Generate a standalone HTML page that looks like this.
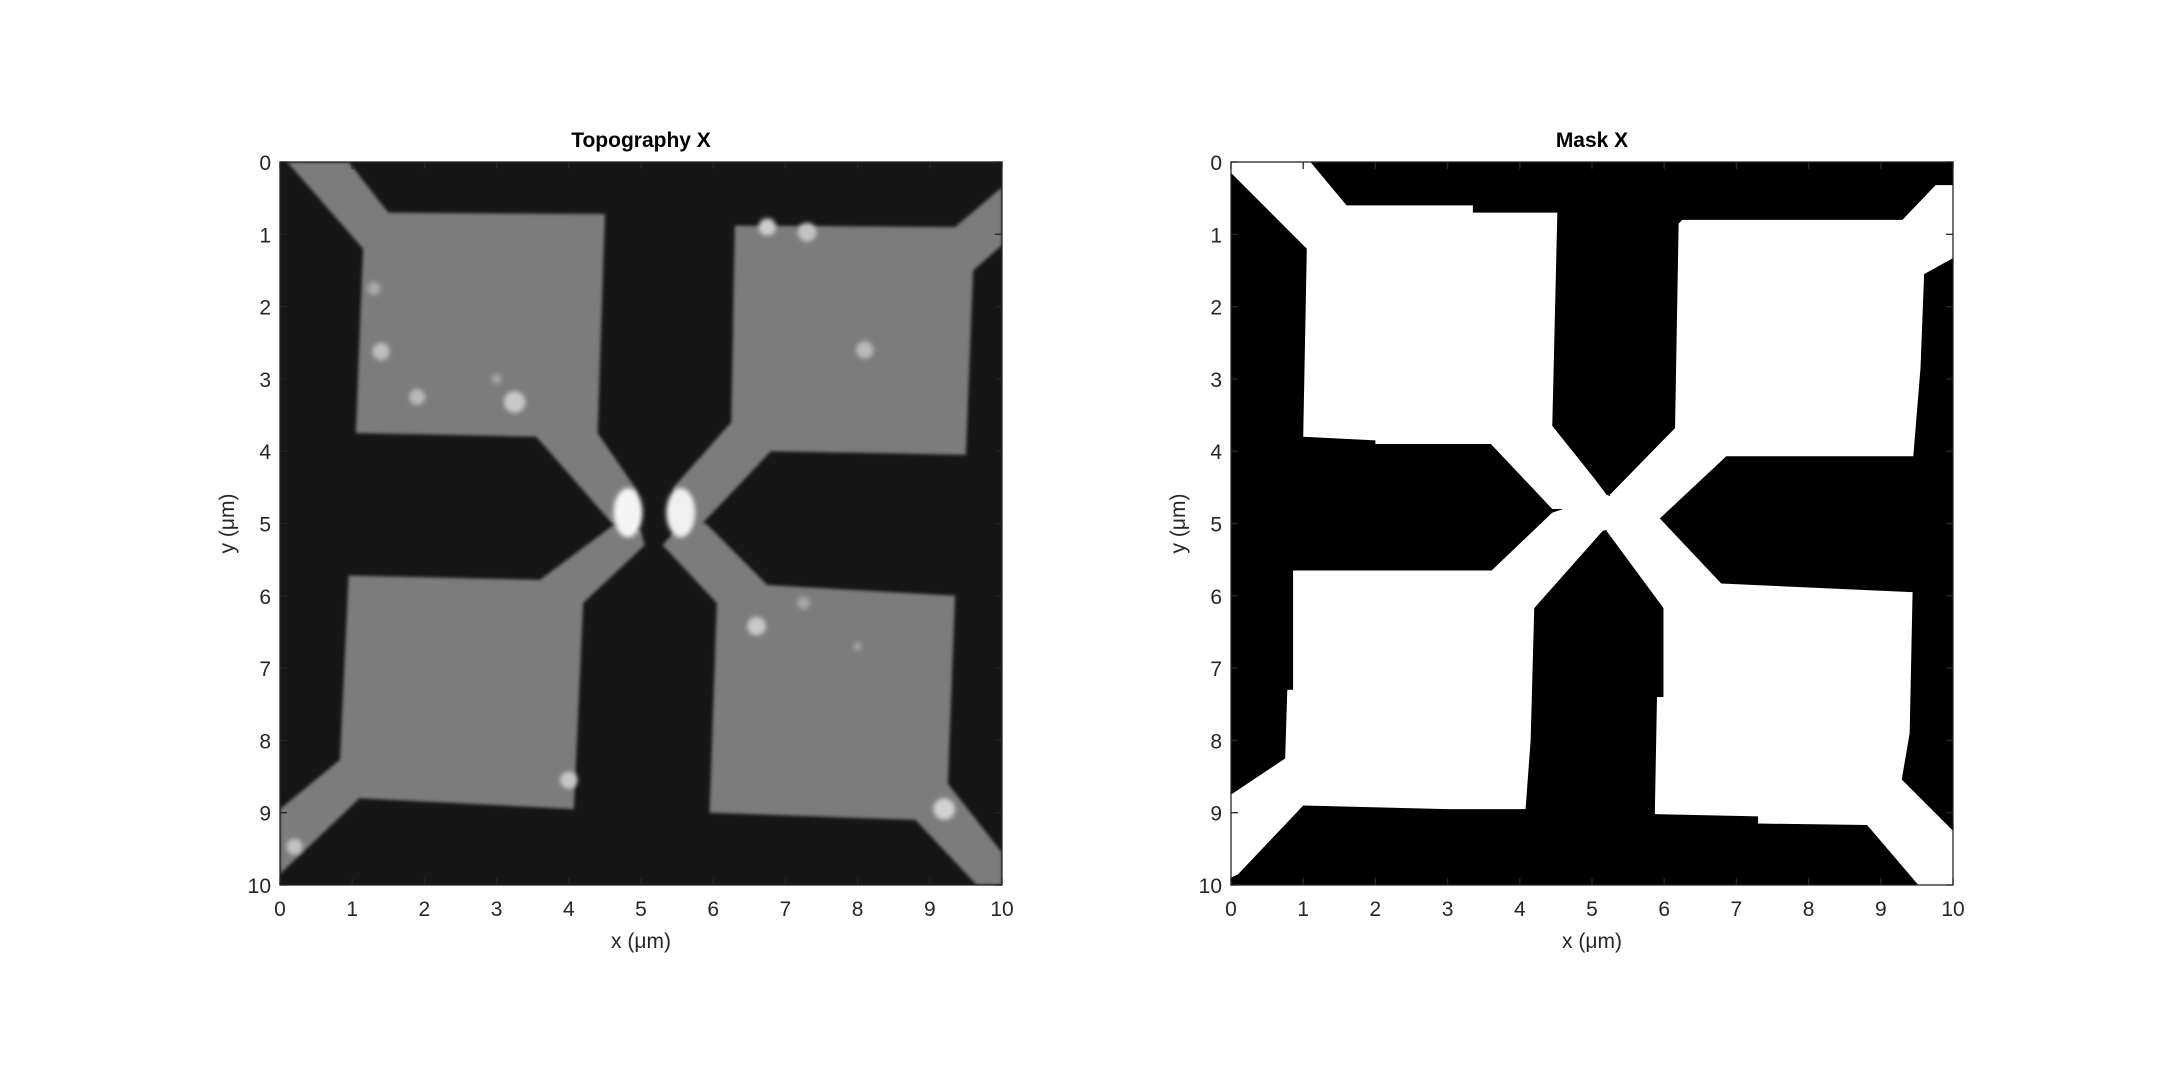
<!DOCTYPE html>
<html><head><meta charset="utf-8"><style>
html,body{margin:0;padding:0;background:#fff;}
svg{display:block;font-family:"Liberation Sans",Arial,sans-serif;}
</style></head><body>
<svg id="fig" width="2157" height="1084" viewBox="0 0 2157 1084" xmlns="http://www.w3.org/2000/svg">
<defs>
<filter id="soft" x="-5%" y="-5%" width="110%" height="110%"><feGaussianBlur stdDeviation="1.6"/></filter>
<filter id="spotblur" x="-50%" y="-50%" width="200%" height="200%"><feGaussianBlur stdDeviation="2.5"/></filter>
<clipPath id="clipL"><rect x="280" y="162" width="722" height="723"/></clipPath>
</defs>
</svg>
<script>
// ---- data (µm coordinates, y downward) ----
const ticks = [0,1,2,3,4,5,6,7,8,9,10];
const tickLabels = ["0","1","2","3","4","5","6","7","8","9","10"];
const topoPadTL = [[0.1,0],[0.95,0],[1.5,0.7],[4.5,0.72],[4.4,3.75],[4.95,4.55],[4.9,4.95],[4.6,5.0],[3.55,3.8],[1.05,3.75],[1.15,1.2]];
const topoPadTR = [[6.3,0.88],[9.35,0.9],[10,0.35],[10,1.15],[9.6,1.5],[9.5,4.05],[6.8,4.0],[5.85,5.0],[5.45,5.05],[5.45,4.5],[6.25,3.6]];
const topoPadBL = [[0.95,5.72],[3.6,5.78],[4.65,5.0],[5.0,5.1],[5.05,5.3],[4.2,6.1],[4.07,8.95],[1.1,8.8],[0,9.85],[0,8.95],[0.83,8.27]];
const topoPadBR = [[5.55,5.0],[5.9,5.0],[6.75,5.85],[9.35,6.0],[9.25,8.6],[10,9.55],[10,10],[9.65,10],[8.8,9.1],[5.95,9.0],[6.05,6.1],[5.3,5.3]];
const spotX = [4.82,5.55,6.75,7.3,3.25,1.4,1.9,8.1,6.6,4.0,9.2,0.2,1.3,7.25,3.0,8.0];
const spotY = [4.85,4.85,0.9,0.97,3.32,2.62,3.25,2.6,6.42,8.55,8.95,9.47,1.75,6.1,3.0,6.7];
const spotR = [0.2,0.2,0.12,0.13,0.15,0.12,0.11,0.12,0.13,0.12,0.15,0.11,0.09,0.09,0.07,0.06];
const spotV = [245,240,205,195,200,190,185,185,200,200,210,195,170,165,165,160];
const maskTL = [[0,0],[1.1,0],[1.6,0.6],[3.35,0.6],[3.35,0.7],[4.52,0.7],[4.45,3.65],[5.05,4.4],[5.2,4.6],[5.2,4.8],[4.45,4.8],[3.6,3.9],[2.0,3.9],[2.0,3.85],[1.0,3.8],[1.05,1.2],[0,0.15]];
const maskTR = [[6.25,0.8],[9.3,0.8],[9.76,0.32],[10,0.32],[10,1.33],[9.6,1.55],[9.55,2.85],[9.45,4.07],[6.86,4.07],[5.94,4.93],[5.25,5.0],[5.25,4.6],[6.15,3.68],[6.2,0.85]];
const maskBL = [[0.86,5.65],[3.61,5.65],[4.45,4.85],[5.15,4.95],[5.15,5.1],[4.2,6.17],[4.15,8.0],[4.08,8.95],[3.0,8.95],[1.0,8.9],[0.1,9.85],[0,9.9],[0,8.75],[0.75,8.25],[0.78,7.3],[0.86,7.3]];
const maskBR = [[5.2,5.0],[5.94,4.93],[6.79,5.83],[9.44,5.95],[9.4,7.9],[9.29,8.54],[10,9.25],[10,10],[9.52,10],[8.81,9.17],[7.3,9.15],[7.3,9.05],[5.87,9.02],[5.9,7.4],[5.99,7.4],[5.99,6.17],[5.2,5.1]];
const maskCenter = [[5.2,4.6],[5.94,4.93],[5.15,5.1],[4.45,4.85]];

const NS="http://www.w3.org/2000/svg";
const svg=document.getElementById('fig');
function mk(tag,attrs,parent){const e=document.createElementNS(NS,tag);for(const k in attrs)e.setAttribute(k,attrs[k]);(parent||svg).appendChild(e);return e;}

function axes(x0,x1,y0,y1,title,prefix,drawFn){
  const sx=v=>x0+(v/10)*(x1-x0);
  const sy=v=>y0+(v/10)*(y1-y0);
  const g=mk('g',{});
  
  
  drawFn(g,sx,sy);
  const box=mk('rect',{x:x0,y:y0,width:x1-x0,height:y1-y0,fill:'none',stroke:'#262626','stroke-width':1.3},g);
  
  
  ticks.forEach((t,i)=>{
    const tx=sx(t), ty=sy(t);
    mk('line',{x1:tx,y1:y1,x2:tx,y2:y1-7,stroke:'#262626','stroke-width':1.3},g);
    mk('line',{x1:tx,y1:y0,x2:tx,y2:y0+7,stroke:'#262626','stroke-width':1.3},g);
    mk('line',{x1:x0,y1:ty,x2:x0+7,y2:ty,stroke:'#262626','stroke-width':1.3},g);
    mk('line',{x1:x1,y1:ty,x2:x1-7,y2:ty,stroke:'#262626','stroke-width':1.3},g);
    const xl=mk('text',{x:tx,y:y1+31,'font-size':21,fill:'#262626','text-anchor':'middle'},g);
    xl.textContent=tickLabels[i];
    
    
    const yl=mk('text',{x:x0-9,y:ty+8,'font-size':21,fill:'#262626','text-anchor':'end'},g);
    yl.textContent=tickLabels[i];
    
    
  });
  const tt=mk('text',{x:(x0+x1)/2,y:y0-15,'font-size':21,'font-weight':'bold',fill:'#000','text-anchor':'middle'},g);
  tt.textContent=title;
  
  
  const xt=mk('text',{x:(x0+x1)/2,y:y1+63,'font-size':21,fill:'#262626','text-anchor':'middle'},g);
  xt.textContent='x (μm)';
  
  
  const yt=mk('text',{x:0,y:0,'font-size':21,fill:'#262626','text-anchor':'middle',transform:`translate(${x0-46},${(y0+y1)/2}) rotate(-90)`},g);
  yt.textContent='y (μm)';
  
  
}
function poly(g,pts,sx,sy,fill,name){
  const p=mk('polygon',{points:pts.map(q=>sx(q[0])+','+sy(q[1])).join(' '),fill:fill},g);
  
  
  return p;
}

axes(280,1002,162,885,'Topography X','topography',(g,sx,sy)=>{
  const bg=mk('rect',{x:sx(0),y:sy(0),width:sx(10)-sx(0),height:sy(10)-sy(0),fill:'#161616'},g);
  
  
  const inner=mk('g',{'clip-path':'url(#clipL)'},g);
  const pads=mk('g',{filter:'url(#soft)'},inner);
  poly(pads,topoPadTL,sx,sy,'#7c7c7c','pad-top-left');
  poly(pads,topoPadTR,sx,sy,'#7c7c7c','pad-top-right');
  poly(pads,topoPadBL,sx,sy,'#7c7c7c','pad-bottom-left');
  poly(pads,topoPadBR,sx,sy,'#7c7c7c','pad-bottom-right');
  const spots=mk('g',{filter:'url(#spotblur)'},inner);
  spotX.forEach((x,i)=>{
    const big=i<2;
    const c=mk('ellipse',{cx:sx(x),cy:sy(spotY[i]),rx:sx(spotR[i])-sx(0),ry:(sy(spotR[i])-sy(0))*(big?1.7:1),fill:`rgb(${spotV[i]},${spotV[i]},${spotV[i]})`},spots);
    
    
  });
});

axes(1231,1953,162,885,'Mask X','mask',(g,sx,sy)=>{
  const bg=mk('rect',{x:sx(0),y:sy(0),width:sx(10)-sx(0),height:sy(10)-sy(0),fill:'#000'},g);
  
  
  poly(g,maskTL,sx,sy,'#fff','mask-region-top-left');
  poly(g,maskTR,sx,sy,'#fff','mask-region-top-right');
  poly(g,maskBL,sx,sy,'#fff','mask-region-bottom-left');
  poly(g,maskBR,sx,sy,'#fff','mask-region-bottom-right');
  poly(g,maskCenter,sx,sy,'#fff','mask-center-crossing');
});
</script>
</body></html>
